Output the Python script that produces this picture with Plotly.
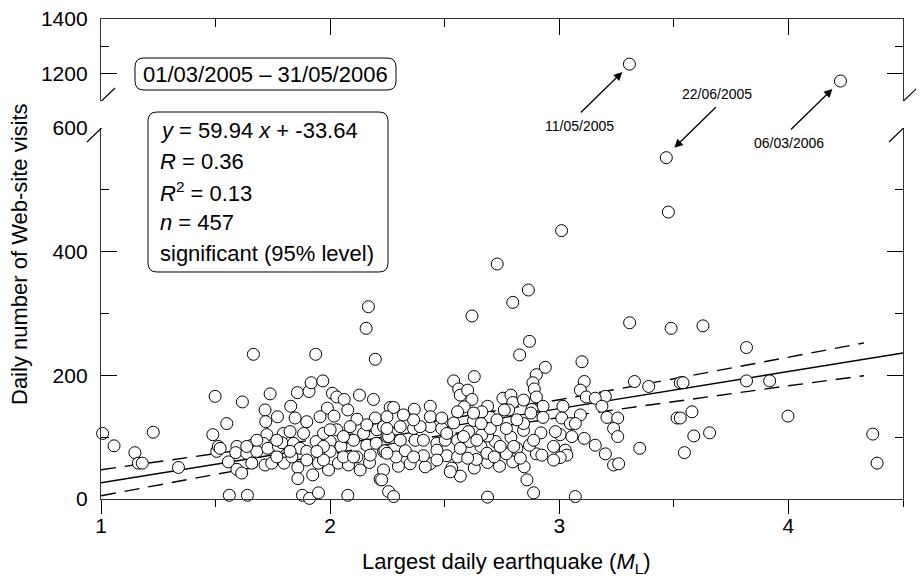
import plotly.graph_objects as go

# ---------------- data ----------------
mag = [
    2.167, 2.157, 2.197, 1.665, 1.937, 1.007, 1.057, 1.228, 1.148, 1.163, 1.180, 1.338, 1.498, 1.549, 1.488,
    1.617, 1.738, 1.716, 1.719, 1.770, 1.828, 1.857, 1.908, 1.917, 1.968, 2.010, 2.029, 2.061, 2.128, 2.189,
    2.262, 2.077, 1.988, 1.956, 2.017, 2.117, 2.197, 1.898, 1.847, 1.796, 1.724, 1.709, 1.658, 1.593, 1.505,
    1.512, 1.588, 1.636, 1.680, 1.728, 1.774, 1.789, 1.840, 1.869, 1.898, 1.939, 2.000, 2.047, 2.102, 2.160,
    2.201, 2.233, 1.556, 1.593, 1.614, 1.658, 1.716, 1.745, 1.799, 1.859, 1.859, 1.924, 1.949, 1.993, 2.036,
    2.080, 2.131, 2.172, 2.218, 2.233, 2.255, 1.560, 1.639, 1.879, 1.910, 1.949, 2.077, 1.520, 2.000, 1.971,
    2.058, 2.117, 2.175, 1.833, 1.767, 1.898, 1.825, 1.884, 1.971, 2.029, 2.058, 2.146, 2.204, 2.248, 1.971,
    1.942, 2.102, 1.767, 1.680, 1.636, 1.825, 2.000, 2.087, 2.160, 2.233,
    2.797, 2.619, 2.870, 2.827, 2.939, 2.900, 2.885, 2.891, 2.900, 3.307, 3.488, 3.099, 3.109, 3.092, 3.118,
    3.328, 3.390, 3.528, 3.201, 3.157, 3.186, 3.016, 2.929, 2.929, 2.881, 2.539, 2.561, 2.568, 2.600, 2.619,
    2.629, 2.585, 2.556, 2.277, 2.367, 2.437, 2.687, 2.754, 2.789, 2.797, 2.779, 2.699, 2.662, 2.626, 2.539,
    2.876, 3.011, 3.048, 3.092, 3.070, 3.208, 3.255, 3.237, 3.255, 3.004, 3.055, 3.109, 3.157, 3.201, 3.237,
    3.259, 3.351, 3.026, 3.033, 3.004, 2.859, 2.888, 2.687, 3.070, 2.847, 2.797, 2.739, 2.687, 2.629, 2.568,
    2.531, 2.437, 2.415, 2.349, 2.298, 2.225, 2.277, 2.288, 2.407, 2.509, 2.556, 2.638, 2.769, 2.900, 2.924,
    2.239, 2.328, 2.371, 2.466, 2.502, 2.556, 2.608, 2.658, 2.721, 2.789, 2.844, 2.920, 2.870, 2.815, 2.687,
    2.662, 2.255, 2.364, 2.437, 2.487, 2.604, 2.699, 2.769, 2.844, 2.248, 2.306, 2.393, 2.466, 2.568, 2.684,
    2.524, 2.306, 2.407, 2.509, 2.582, 2.640, 2.742, 2.801, 2.888, 2.248, 2.364, 2.466, 2.600, 2.716, 2.830,
    2.364, 2.437, 2.487, 2.659, 2.728, 2.815, 2.248, 2.320, 2.626, 2.760, 2.844, 2.983, 2.975, 2.975,
    3.627, 3.817, 3.540, 3.817, 3.918, 3.579, 3.514, 3.528, 3.998, 3.656, 3.587, 3.546, 4.368, 4.387,
    3.010, 2.729, 2.865, 3.467, 3.476,
]
visits = [
    311, 276, 226, 234, 234, 106, 86, 108, 75, 58, 58, 51, 166, 122, 104,
    157, 170, 144, 125, 133, 150, 172, 174, 188, 191, 171, 165, 161, 168, 161,
    148, 144, 147, 133, 134, 129, 131, 125, 131, 106, 104, 90, 87, 85, 77,
    85, 75, 74, 77, 82, 85, 91, 90, 82, 77, 93, 93, 85, 95, 87,
    90, 77, 60, 48, 42, 58, 55, 58, 58, 51, 33, 39, 58, 47, 58,
    55, 47, 59, 32, 47, 12, 6, 6, 6, 1, 10, 6, 82, 77, 63,
    68, 68, 71, 68, 68, 63, 109, 106, 106, 112, 101, 106, 112, 101, 85,
    77, 68, 95, 95, 85, 77, 112, 117, 120, 117,
    318, 296, 255, 233, 213, 201, 188, 178, 165, 285, 276, 222, 190, 176, 165,
    190, 182, 188, 166, 163, 150, 150, 150, 132, 145, 191, 178, 168, 176, 161,
    198, 149, 141, 148, 145, 150, 150, 163, 168, 156, 144, 132, 141, 127, 123,
    139, 131, 122, 136, 122, 132, 131, 114, 101, 104, 101, 98, 87, 73, 55,
    57, 82, 79, 71, 67, 31, 10, 3, 4, 52, 60, 53, 59, 50, 37,
    50, 57, 52, 57, 53, 31, 4, 68, 70, 70, 68, 64, 73, 73, 71,
    78, 78, 95, 90, 95, 95, 93, 85, 93, 100, 111, 107, 87, 82, 102,
    104, 101, 114, 117, 114, 109, 114, 114, 122, 114, 117, 117, 79, 82, 74,
    44, 95, 95, 106, 101, 95, 85, 85, 95, 74, 68, 63, 66, 68, 66,
    128, 133, 131, 122, 128, 128, 133, 136, 139, 144, 160, 109, 85, 63,
    280, 245, 188, 191, 191, 141, 131, 131, 134, 107, 102, 75, 105, 58,
    434, 380, 338, 552, 464,
]
mag_high = [3.306, 4.227]          # points above the axis break
visits_high = [1235, 1173]

slope = 59.94
intercept = -33.64
fit_x = [1.0, 4.5]

band_x = [1.0, 1.5, 2.0, 2.5, 3.0, 3.5, 4.0, 4.33]
band_upper = [47.3, 72.8, 99.5, 128.6, 160.6, 194.4, 229.1, 252.4]
band_lower = [5.3, 39.8, 72.9, 103.8, 131.8, 158.0, 183.1, 199.4]

x_ticks = [1, 2, 3, 4]
y_ticks_low = [0, 200, 400, 600]
y_ticks_high = [1200, 1400]

date_range_text = "01/03/2005 – 31/05/2006"
stats_lines = [
    "<i>y</i> = 59.94 <i>x</i> + -33.64",
    "<i>R</i> = 0.36",
    "<i>R</i><sup>2</sup> = 0.13",
    "<i>n</i> = 457",
    "significant (95% level)",
]
events = [  # label, head x, head y, on upper panel?
    ("11/05/2005", 3.275, 1206, True),
    ("22/06/2005", 3.502, 568, False),
    ("06/03/2006", 4.192, 1144, True),
]

# ---------------- geometry (page has an 8px body margin) ----------------
PAGE_OFF = 8
W, H = 924 - 2 * PAGE_OFF, 586 - 2 * PAGE_OFF
PLOT_L, PLOT_T, PLOT_R, PLOT_B = 101, 19, 903, 499      # plot area in page pixels
L = PLOT_L - PAGE_OFF
T = PLOT_T - PAGE_OFF
PW = PLOT_R - PLOT_L
PH = PLOT_B - PLOT_T
R = W - L - PW
B = H - T - PH
FONT = "Liberation Sans, Arial, sans-serif"


def paper(px, py):
    return (px - PLOT_L) / PW, (PLOT_B - py) / PH


def rounded_box(x0, y0, x1, y1, r):
    def P(px, py):
        a, b = paper(px, py)
        return f"{a:.5f},{b:.5f}"
    path = (f"M {P(x0 + r, y0)} L {P(x1 - r, y0)} Q {P(x1, y0)} {P(x1, y0 + r)} "
            f"L {P(x1, y1 - r)} Q {P(x1, y1)} {P(x1 - r, y1)} "
            f"L {P(x0 + r, y1)} Q {P(x0, y1)} {P(x0, y1 - r)} "
            f"L {P(x0, y0 + r)} Q {P(x0, y0)} {P(x0 + r, y0)} Z")
    return dict(type="path", path=path, xref="paper", yref="paper",
                line=dict(color="black", width=1), fillcolor="white", layer="above")


low_dom = [0, (PLOT_B - 128) / PH]
high_dom = [(PLOT_B - 101) / PH, 1]

fig = go.Figure()

marker = dict(symbol="circle", size=12, color="white", line=dict(color="black", width=1))

fit_y = [slope * v + intercept for v in fit_x]
fig.add_trace(go.Scatter(x=band_x, y=band_upper, mode="lines", xaxis="x", yaxis="y",
                         line=dict(color="black", width=1.4, dash="15px,9px"), hoverinfo="skip"))
fig.add_trace(go.Scatter(x=band_x, y=band_lower, mode="lines", xaxis="x", yaxis="y",
                         line=dict(color="black", width=1.4, dash="15px,9px"), hoverinfo="skip"))
fig.add_trace(go.Scatter(x=fit_x, y=fit_y, mode="lines", xaxis="x", yaxis="y",
                         line=dict(color="black", width=1.4), hoverinfo="skip"))
fig.add_trace(go.Scatter(x=mag, y=visits, mode="markers", xaxis="x", yaxis="y",
                         marker=marker, cliponaxis=False))
fig.add_trace(go.Scatter(x=mag_high, y=visits_high, mode="markers", xaxis="x2", yaxis="y2",
                         marker=marker, cliponaxis=False))

axis_common = dict(showgrid=False, zeroline=False, showline=True, linecolor="#333", linewidth=1.3,
                   tickcolor="black", tickwidth=1.3, ticklabeloverflow="allow",
                   tickfont=dict(family=FONT, size=21, color="black"))

fig.update_layout(
    width=W, height=H, margin=dict(l=L, r=R, t=T, b=B, autoexpand=False),
    paper_bgcolor="white", plot_bgcolor="white", showlegend=False,
    xaxis=dict(domain=[0, 1], anchor="y", range=[1, 4.5], tickvals=x_ticks,
               ticks="outside", ticklen=14, ticklabelstandoff=-6,
               minor=dict(dtick=0.5, tick0=0, ticks="outside", ticklen=7, tickcolor="black", tickwidth=1.3),
               **axis_common),
    yaxis=dict(domain=low_dom, anchor="x", range=[0, 600], tickvals=y_ticks_low,
               ticks="inside", ticklen=16, mirror="ticks", ticklabelstandoff=8,
               minor=dict(dtick=100, tick0=0, ticks="inside", ticklen=8, tickcolor="black", tickwidth=1.3),
               **axis_common),
    xaxis2=dict(domain=[0, 1], anchor="y2", range=[1, 4.5], side="top", tickvals=x_ticks,
                showticklabels=False, ticks="inside", ticklen=16,
                minor=dict(dtick=0.5, tick0=0, ticks="inside", ticklen=8, tickcolor="black", tickwidth=1.3),
                **axis_common),
    yaxis2=dict(domain=high_dom, anchor="x2", range=[1100, 1400], tickvals=y_ticks_high,
                ticks="inside", ticklen=16, mirror="ticks", ticklabelstandoff=8,
                minor=dict(dtick=100, tick0=0, ticks="inside", ticklen=8, tickcolor="black", tickwidth=1.3),
                **axis_common),
)

shapes = []
# axis-break slashes
for xa in (0, 1):
    for yref, yval in (("y", 600), ("y2", 1100)):
        shapes.append(dict(type="line", xref="paper", yref=yref, xsizemode="pixel", ysizemode="pixel",
                           xanchor=xa, yanchor=yval, x0=-14, x1=14, y0=-14, y1=13,
                           line=dict(color="black", width=1.2)))
shapes.append(rounded_box(135, 58, 396, 90, 9))
shapes.append(rounded_box(148, 112, 388, 272, 9))
fig.update_layout(shapes=shapes)

ann = []
cx, cy = paper(265.5, 74)
ann.append(dict(text=date_range_text, x=cx, y=cy, xref="paper", yref="paper", showarrow=False,
                xanchor="center", yanchor="middle", font=dict(family=FONT, size=22, color="black")))
for i, line in enumerate(stats_lines):
    lx, ly = paper(158, 131 + i * 30.5)
    ann.append(dict(text=line, x=lx, y=ly, xref="paper", yref="paper", showarrow=False,
                    xanchor="left", yanchor="middle", font=dict(family=FONT, size=22, color="black")))

label_pos = [(579, 126), (717, 94), (789, 143)]
arrow_tail = [(-43, 42), (43, -42), (-43, 42)]
for (lab, hx, hy, upper), (tx, ty), (ax, ay) in zip(events, label_pos, arrow_tail):
    ann.append(dict(text="", x=hx, y=hy, xref="x2" if upper else "x", yref="y2" if upper else "y",
                    showarrow=True, ax=ax, ay=ay, arrowhead=2, arrowsize=1.3, arrowwidth=1.3,
                    arrowcolor="black", standoff=0, startstandoff=0))
    px_, py_ = paper(tx, ty)
    ann.append(dict(text=lab, x=px_, y=py_, xref="paper", yref="paper", showarrow=False,
                    xanchor="center", yanchor="middle", font=dict(family=FONT, size=14, color="black")))

tx, ty = paper(19, 254)
ann.append(dict(text="Daily number of Web-site visits", x=tx, y=ty, xref="paper", yref="paper",
                showarrow=False, textangle=-90, xanchor="center", yanchor="middle",
                font=dict(family=FONT, size=22, color="black")))
tx, ty = paper(506, 563)
ann.append(dict(text="Largest daily earthquake (<i>M</i><sub>L</sub>)", x=tx, y=ty, xref="paper", yref="paper",
                showarrow=False, xanchor="center", yanchor="middle",
                font=dict(family=FONT, size=22, color="black")))
fig.update_layout(annotations=ann)

fig.write_html("out.html")
